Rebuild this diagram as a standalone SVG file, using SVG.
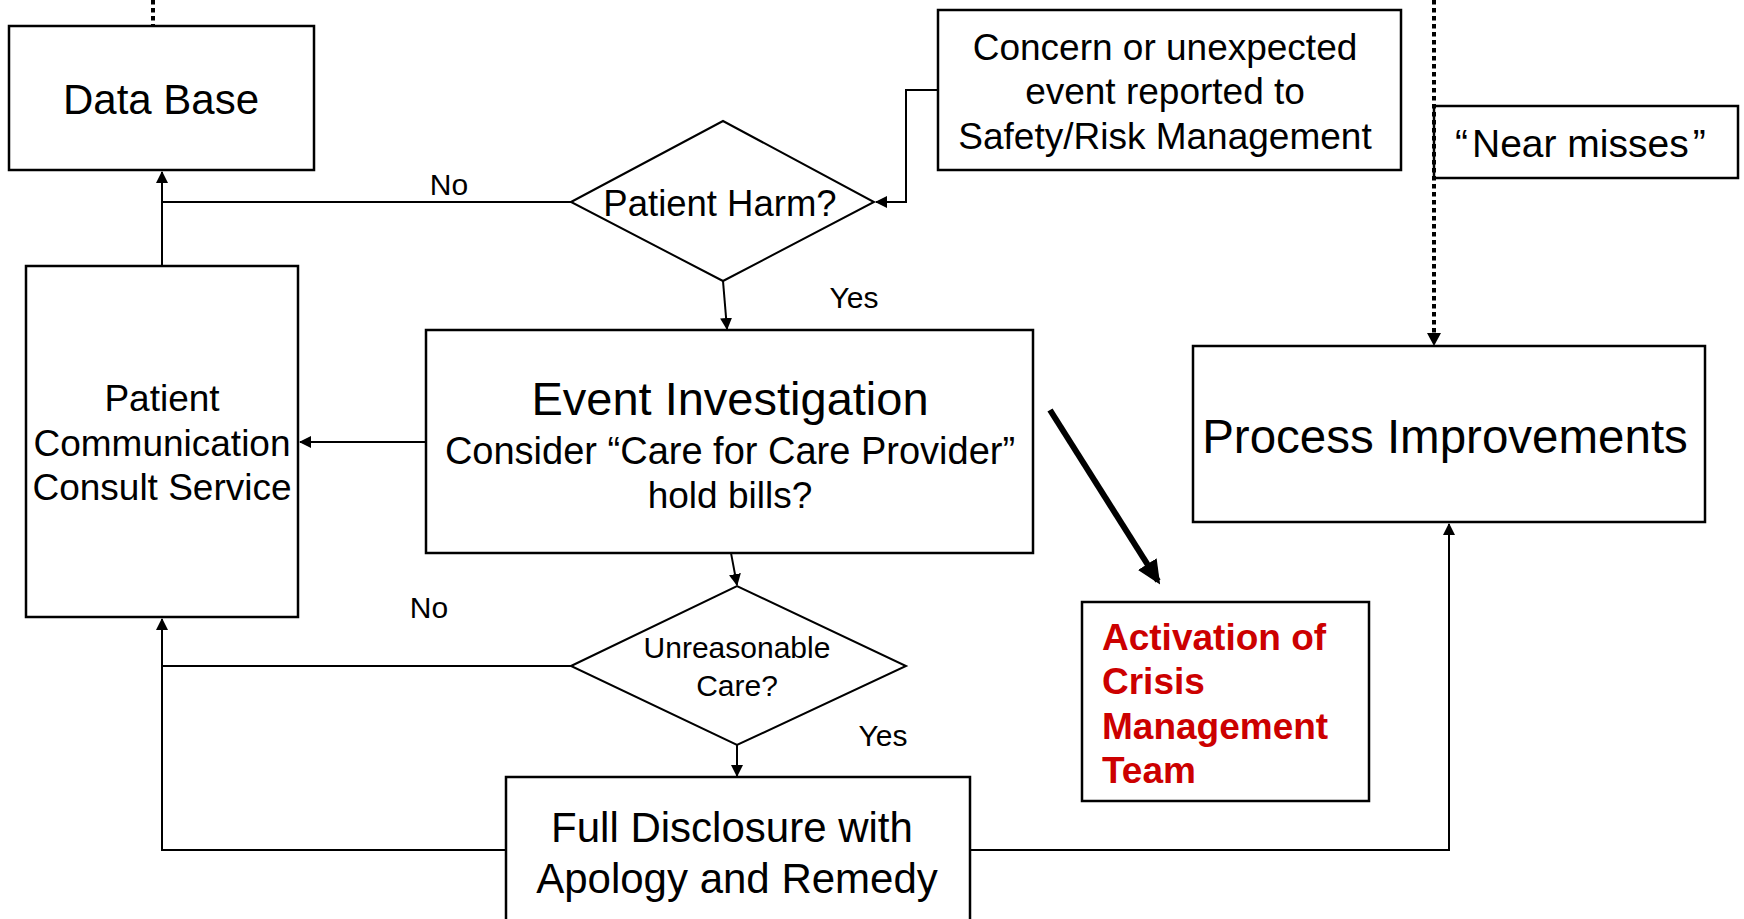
<svg xmlns="http://www.w3.org/2000/svg" width="1744" height="919" viewBox="0 0 1744 919">
<defs>
<style>
.box{fill:#fff;stroke:#000;stroke-width:2.5}
.dia{fill:#fff;stroke:#000;stroke-width:2}
.t{font-family:"Liberation Sans",Arial,sans-serif;fill:#000;text-anchor:middle}
.lbl{font-family:"Liberation Sans",Arial,sans-serif;fill:#000;font-size:30px;text-anchor:middle}
.red{font-family:"Liberation Sans",Arial,sans-serif;fill:#CC0000;font-weight:bold;font-size:37px}
.ln{fill:none;stroke:#000;stroke-width:2}
.dot{fill:none;stroke:#000;stroke-width:4;stroke-dasharray:4.5 3.5}
</style>
<marker id="ah" markerWidth="12" markerHeight="12" viewBox="0 0 12 12" refX="11" refY="6" orient="auto" markerUnits="userSpaceOnUse">
<path d="M0,0 L12,6 L0,12 Z" fill="#000"/>
</marker>
<marker id="ahb" markerWidth="24" markerHeight="22" viewBox="0 0 24 22" refX="20" refY="11" orient="auto" markerUnits="userSpaceOnUse">
<path d="M0,0 L24,11 L0,22 Z" fill="#000"/>
</marker>
</defs>
<rect width="1744" height="919" fill="#fff"/>

<g id="connectors">
<line class="dot" x1="153" y1="0" x2="153" y2="26"/>
<polyline class="ln" points="571,202 162,202"/>
<line class="ln" x1="162" y1="266" x2="162" y2="172" marker-end="url(#ah)"/>
<polyline class="ln" points="938,90 906,90 906,202 876,202" marker-end="url(#ah)"/>
<line class="ln" x1="723" y1="281" x2="727" y2="329" marker-end="url(#ah)"/>
<line class="ln" x1="426" y1="442" x2="300" y2="442" marker-end="url(#ah)"/>
<line class="ln" x1="731" y1="553" x2="737" y2="585" marker-end="url(#ah)"/>
<polyline class="ln" points="571,666 162,666"/>
<polyline class="ln" points="506,850 162,850 162,619" marker-end="url(#ah)"/>
<line class="ln" x1="737" y1="745" x2="737" y2="776" marker-end="url(#ah)"/>
<polyline class="ln" points="970,850 1449,850 1449,524" marker-end="url(#ah)"/>
<line x1="1050" y1="410" x2="1158" y2="581" stroke="#000" stroke-width="6" marker-end="url(#ahb)"/>
</g>

<g id="database">
<rect class="box" x="9" y="26" width="305" height="144"/>
<text class="t" x="161" y="114" font-size="42">Data Base</text>
</g>

<g id="concern">
<rect class="box" x="938" y="10" width="463" height="160"/>
<text class="t" x="1165" y="60" font-size="37">Concern or unexpected</text>
<text class="t" x="1165" y="104" font-size="37">event reported to</text>
<text class="t" x="1165" y="149" font-size="37">Safety/Risk Management</text>
</g>

<g id="near-misses">
<rect class="box" x="1434" y="106" width="304" height="72"/>
<text x="1455" y="157" font-size="39" font-family="Liberation Sans, Arial, sans-serif" fill="#000">“<tspan dx="4">Near misses</tspan><tspan dx="4">”</tspan></text>
</g>

<line class="dot" x1="1434" y1="0" x2="1434" y2="334"/>
<path d="M1427,333 L1441,333 L1434,346 Z" fill="#000"/>

<g id="patient-harm">
<polygon class="dia" points="571,202 723,121 874,202 723,281"/>
<text class="t" x="720" y="216" font-size="36.5">Patient Harm?</text>
</g>

<g id="labels">
<text class="lbl" x="449" y="195">No</text>
<text class="lbl" x="854" y="308">Yes</text>
<text class="lbl" x="429" y="618">No</text>
<text class="lbl" x="883" y="746">Yes</text>
</g>

<g id="pccs">
<rect class="box" x="26" y="266" width="272" height="351"/>
<text class="t" x="162" y="411" font-size="37">Patient</text>
<text class="t" x="162" y="456" font-size="37">Communication</text>
<text class="t" x="162" y="500" font-size="37">Consult Service</text>
</g>

<g id="event-investigation">
<rect class="box" x="426" y="330" width="607" height="223"/>
<text class="t" x="730" y="415" font-size="47">Event Investigation</text>
<text class="t" x="730" y="464" font-size="38">Consider “Care for Care Provider”</text>
<text class="t" x="730" y="508" font-size="37">hold bills?</text>
</g>

<g id="unreasonable-care">
<polygon class="dia" points="571,666 737,586 906,666 737,745"/>
<text class="t" x="737" y="658" font-size="30">Unreasonable</text>
<text class="t" x="737" y="696" font-size="30">Care?</text>
</g>

<g id="full-disclosure">
<rect class="box" x="506" y="777" width="464" height="150"/>
<text class="t" x="732" y="842" font-size="42">Full Disclosure with</text>
<text class="t" x="737" y="893" font-size="42">Apology and Remedy</text>
</g>

<g id="process-improvements">
<rect class="box" x="1193" y="346" width="512" height="176"/>
<text class="t" x="1445" y="453" font-size="47.5">Process Improvements</text>
</g>

<g id="activation">
<rect class="box" x="1082" y="602" width="287" height="199"/>
<text class="red" x="1102" y="650">Activation of</text>
<text class="red" x="1102" y="694">Crisis</text>
<text class="red" x="1102" y="739">Management</text>
<text class="red" x="1102" y="783">Team</text>
</g>
</svg>
